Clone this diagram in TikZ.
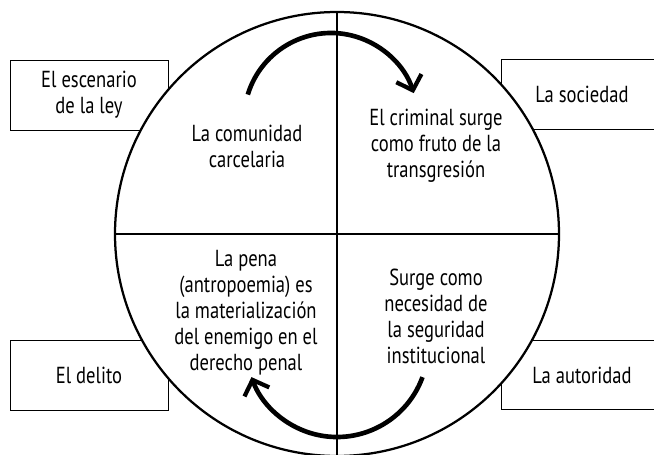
\documentclass[tikz,border=0pt]{standalone}
\usepackage{fontspec}
\setmainfont{PT Sans}[FakeStretch=0.8]
\usepackage{tikz}
\usetikzlibrary{arrows.meta}

\begin{document}
\begin{tikzpicture}[x=0.025cm,y=0.025cm,
    box/.style={draw,line width=0.7pt},
    lbl/.style={align=center,font=\fontsize{16.5}{18.5}\selectfont},
    cycle/.style={line width=3.3pt,-{Straight Barb[length=0.32cm,width=0.66cm,line width=3pt]}}]
      \useasboundingbox (0,0) rectangle (654,455);
      % boxes behind the circle
      \draw[box] (10,325) rectangle (168,395);
      \draw[box] (501,326) rectangle (664,396);
      \draw[box] (10,45) rectangle (168,115);
      \draw[box] (501,46) rectangle (664,115);
      \node[lbl] (ley) at (89,360) {El escenario\\de la ley};
      \node[lbl] (sociedad) at (582,361) {La sociedad};
      \node[lbl] (delito) at (89,80) {El delito};
      \node[lbl] (autoridad) at (582,80) {La autoridad};
      % circle and cross
      \coordinate (c) at (337,221);
      \draw[line width=1.6pt,fill=white] (c) circle (222);
      \draw[line width=1.6pt] (115,221) -- (559,221);
      \draw[line width=1.6pt] (337,443) -- (337,-1);
      \node[lbl] (comunidad) at (247,309) {La comunidad\\carcelaria};
      \node[lbl] (criminal) at (436,309) {El criminal surge\\como fruto de la\\transgresi\'on};
      \node[lbl] (pena) at (246,142) {La pena\\(antropoemia) es\\la materializaci\'on\\del enemigo en el\\derecho penal};
      \node[lbl] (surge) at (436,139) {Surge como\\necesidad de\\la seguridad\\institucional};
      % arrows
      \draw[cycle] (331,335) ++(163:87) arc[start angle=163,end angle=18,radius=87];
      \draw[cycle] (337,109) ++(-20:91) arc[start angle=-20,end angle=-160,radius=91];
\end{tikzpicture}
\end{document}
